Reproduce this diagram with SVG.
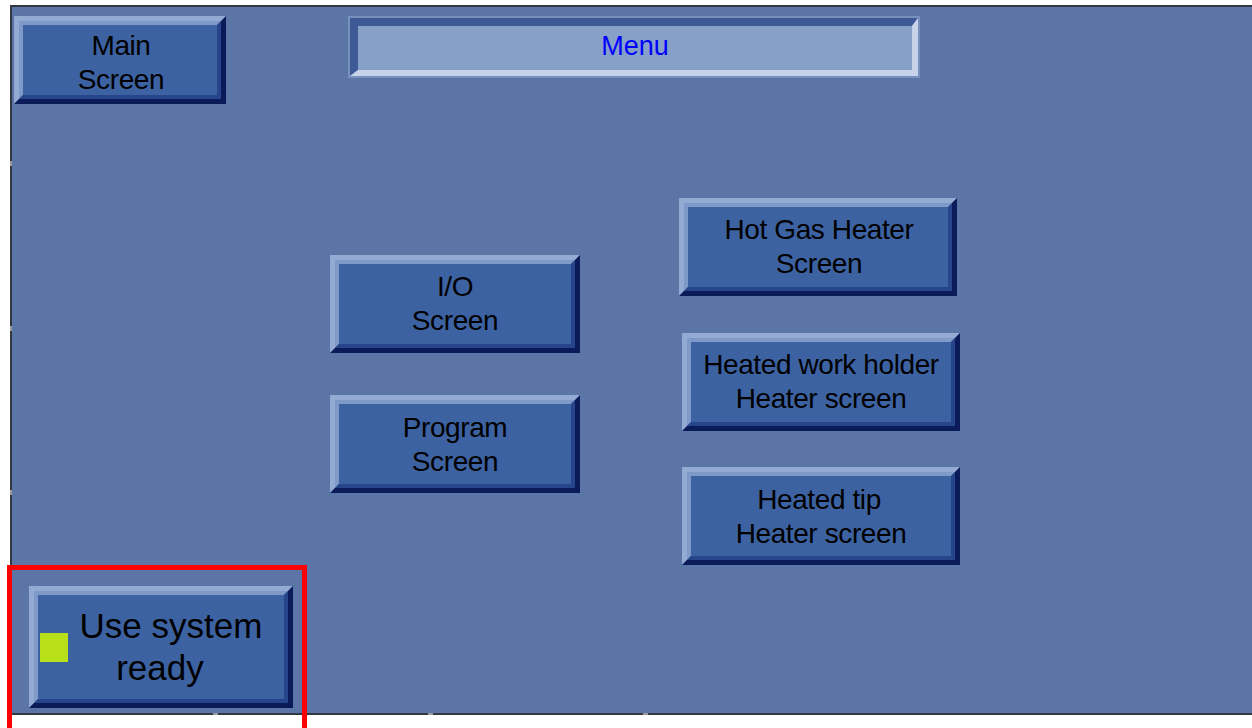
<svg xmlns="http://www.w3.org/2000/svg" xmlns:xlink="http://www.w3.org/1999/xlink" width="1252" height="728" viewBox="0 0 1252 728">
<style>
.l1{fill:#93AAD3}.l2{fill:#7F99C8}.d1{fill:#0B1A58}.d2{fill:#26458A}.face{fill:#3D62A1}
.t{font-family:"Liberation Sans",Arial,sans-serif;font-size:28px;letter-spacing:-0.4px;fill:#000;text-anchor:middle}
.big{font-size:35px;letter-spacing:0}
.menu{fill:#0000FF;font-size:27px;letter-spacing:0}
.tick{fill:#9A9A9A}
</style>
<defs>
<g id="btn250">
<polygon class="l1" points="0,0 250,0 241,9 9,9 9,89 0,98"/>
<polygon class="d1" points="250,0 250,98 0,98 9,89 241,89 241,9"/>
<polygon class="l2" points="5,5 245,5 241,9 9,9 9,89 5,93"/>
<polygon class="d2" points="245,5 245,93 5,93 9,89 241,89 241,9"/>
<rect class="face" x="9" y="9" width="232" height="80"/>
</g>
<g id="btn278">
<polygon class="l1" points="0,0 278,0 269,9 9,9 9,89 0,98"/>
<polygon class="d1" points="278,0 278,98 0,98 9,89 269,89 269,9"/>
<polygon class="l2" points="5,5 273,5 269,9 9,9 9,89 5,93"/>
<polygon class="d2" points="273,5 273,93 5,93 9,89 269,89 269,9"/>
<rect class="face" x="9" y="9" width="260" height="80"/>
</g>
</defs>
<rect x="0" y="0" width="1252" height="728" fill="#FFFFFF"/>
<rect x="10" y="5" width="1242" height="710" fill="#333840"/>
<rect x="12" y="7" width="1240" height="706" fill="#5B75A7"/>
<g id="ticks">
<rect class="tick" x="10" y="161" width="2" height="5"/>
<rect class="tick" x="10" y="326" width="2" height="5"/>
<rect class="tick" x="10" y="490" width="2" height="5"/>
<rect class="tick" x="213" y="713" width="5" height="2"/>
<rect class="tick" x="428" y="713" width="5" height="2"/>
<rect class="tick" x="643" y="713" width="5" height="2"/>
</g>
<g id="connectors"></g>
<g id="menu">
<rect x="348" y="16" width="572" height="62" fill="#7890BE"/>
<polygon points="350,18 918,18 912,26 358,26 358,70 350,76" fill="#3D5A97"/>
<polygon points="918,18 918,76 350,76 358,70 912,70 912,26" fill="#C6D3E9"/>
<rect x="358" y="26" width="554" height="44" fill="#86A0C8"/>
<text class="t menu" x="635" y="55">Menu</text>
</g>
<g id="main-screen" transform="translate(14,16)">
<polygon class="l1" points="0,0 212,0 203,9 9,9 9,79 0,88"/>
<polygon class="d1" points="212,0 212,88 0,88 9,79 203,79 203,9"/>
<polygon class="l2" points="5,5 207,5 203,9 9,9 9,79 5,83"/>
<polygon class="d2" points="207,5 207,83 5,83 9,79 203,79 203,9"/>
<rect class="face" x="9" y="9" width="194" height="70"/>
<text class="t" x="107" y="39">Main</text>
<text class="t" x="107" y="73">Screen</text>
</g>
<g id="io-screen" transform="translate(330,255)">
<use xlink:href="#btn250"/>
<text class="t" x="125" y="41">I/O</text>
<text class="t" x="125" y="75">Screen</text>
</g>
<g id="program-screen" transform="translate(330,395)">
<use xlink:href="#btn250"/>
<text class="t" x="125" y="42">Program</text>
<text class="t" x="125" y="76">Screen</text>
</g>
<g id="hot-gas" transform="translate(679,198)">
<use xlink:href="#btn278"/>
<text class="t" x="140" y="41">Hot Gas Heater</text>
<text class="t" x="140" y="75">Screen</text>
</g>
<g id="work-holder" transform="translate(682,333)">
<use xlink:href="#btn278"/>
<text class="t" x="139" y="41">Heated work holder</text>
<text class="t" x="139" y="75">Heater screen</text>
</g>
<g id="heated-tip" transform="translate(682,467)">
<use xlink:href="#btn278"/>
<text class="t" x="137" y="42">Heated tip</text>
<text class="t" x="139" y="76">Heater screen</text>
</g>
<g id="system-ready" transform="translate(29,586)">
<polygon class="l1" points="0,0 264,0 255,9 9,9 9,113 0,122"/>
<polygon class="d1" points="264,0 264,122 0,122 9,113 255,113 255,9"/>
<polygon class="l2" points="5,5 259,5 255,9 9,9 9,113 5,117"/>
<polygon class="d2" points="259,5 259,117 5,117 9,113 255,113 255,9"/>
<rect class="face" x="9" y="9" width="246" height="104"/>
<rect x="11" y="47" width="28" height="29" fill="#B8E01A"/>
<text class="t big" x="142" y="52">Use system</text>
<text class="t big" x="131" y="94">ready</text>
</g>
<rect id="highlight" x="9.5" y="567.5" width="295" height="164" fill="none" stroke="#FF0000" stroke-width="5"/>
</svg>
